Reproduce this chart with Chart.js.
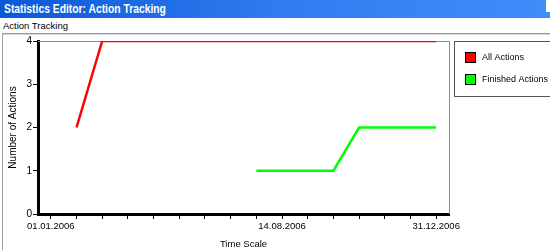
<!DOCTYPE html>
<html>
<head>
<meta charset="utf-8">
<script src="https://cdn.jsdelivr.net/npm/chart.js@4/dist/chart.umd.min.js"></script>
<style>
  body { margin: 0; width: 550px; height: 250px; overflow: hidden; background: #fff; position: relative; font-family: "Liberation Sans", Arial, sans-serif; }
  .titlebar { position: absolute; left: 0; top: 0; width: 550px; height: 18px; background: linear-gradient(to right, #0a58d6, #2f7cf0 50%, #3f8df9); }
  .titlebar span { position: absolute; left: 4px; top: 0; color: #fff; font: bold 12px "Liberation Sans", sans-serif; line-height: 18px; white-space: nowrap; transform: scaleX(0.86); transform-origin: left center; }
  .btn { position: absolute; left: 546px; top: 0; width: 4px; height: 12px; background: #fff; }
  .subtitle { position: absolute; left: 3px; top: 20px; font-size: 9.5px; color: #000; }
  .panel { position: absolute; left: 2px; top: 33px; width: 600px; height: 300px; border-top: 1px solid #8f99a3; border-left: 1px solid #a0a0a0; box-shadow: inset 0 1px #d4d8dc; }
  canvas { position: absolute; left: 0; top: 34px; }
</style>
</head>
<body>
<div class="titlebar"><span>Statistics Editor: Action Tracking</span></div>
<div class="btn"></div>
<div class="subtitle">Action Tracking</div>
<div class="panel"></div>
<canvas id="chart" width="550" height="216"></canvas>
<script>
const tickLabels = ['01.01.2006', '', '', '', '', '', '', '', '', '14.08.2006', '', '', '', '', '', '31.12.2006'];
const allActions = [null, 2, 4, 4, 4, 4, 4, 4, 4, 4, 4, 4, 4, 4, 4, 4];
const finishedActions = [null, null, null, null, null, null, null, null, 1, 1, 1, 1, 2, 2, 2, 2];

// gray frame on top and right of the plot
const plotFrame = {
    id: 'plotFrame',
    beforeDatasetsDraw(chart) {
        const { ctx, chartArea } = chart;
        ctx.save();
        ctx.strokeStyle = '#8a8a8a';
        ctx.lineWidth = 1;
        ctx.beginPath();
        ctx.moveTo(chartArea.left, chartArea.top + 0.5);
        ctx.lineTo(chartArea.right + 0.5, chartArea.top + 0.5);
        ctx.lineTo(chartArea.right + 0.5, chartArea.bottom);
        ctx.stroke();
        ctx.restore();
    }
};

// boxed legend to the right of the plot
const legendBox = {
    id: 'legendBox',
    afterDraw(chart) {
        const ctx = chart.ctx;
        const x = 454, y = 7;
        ctx.save();
        ctx.strokeStyle = '#555';
        ctx.lineWidth = 1;
        ctx.strokeRect(x + 0.5, y + 0.5, 120, 55);
        chart.data.datasets.forEach((ds, i) => {
            const sy = y + 11 + i * 22;
            ctx.fillStyle = ds.borderColor;
            ctx.fillRect(x + 11, sy, 10, 10);
            ctx.strokeStyle = '#000';
            ctx.strokeRect(x + 11.5, sy + 0.5, 10, 10);
            ctx.fillStyle = '#000';
            ctx.font = '9px "Liberation Sans"';
            ctx.textBaseline = 'middle';
            ctx.fillText(ds.label, x + 28, sy + 6);
        });
        ctx.restore();
    }
};

new Chart(document.getElementById('chart'), {
    type: 'line',
    data: {
        labels: tickLabels,
        datasets: [
            { label: 'All Actions', data: allActions, borderColor: '#ff0000', borderWidth: 2.5, pointRadius: 0, tension: 0 },
            { label: 'Finished Actions', data: finishedActions, borderColor: '#00ff00', borderWidth: 2.5, pointRadius: 0, tension: 0 }
        ]
    },
    options: {
        responsive: false,
        animation: false,
        layout: { padding: { left: 0, top: 7, right: 101, bottom: 0 } },
        plugins: { legend: { display: false }, tooltip: { enabled: false } },
        scales: {
            x: {
                offset: true,
                afterFit: (scale) => { scale.height = 36; },
                grid: { drawOnChartArea: false, offset: false, color: '#000', tickLength: 5, lineWidth: 1 },
                border: { color: '#000', width: 3 },
                ticks: { color: '#000', font: { size: 9.5, family: 'Liberation Sans' }, autoSkip: false, maxRotation: 0, minRotation: 0, padding: 2 },
                title: { display: true, text: 'Time Scale', color: '#000', font: { size: 9.5, family: 'Liberation Sans' }, padding: { top: 3, bottom: 0 } }
            },
            y: {
                min: 0,
                max: 4,
                afterFit: (scale) => { scale.width = 38; },
                grid: { drawOnChartArea: false, color: '#000', tickLength: 5, lineWidth: 1 },
                border: { color: '#000', width: 3 },
                ticks: { stepSize: 1, color: '#000', font: { size: 10, family: 'Liberation Sans' }, padding: 1 },
                title: { display: true, text: 'Number of Actions', color: '#000', font: { size: 10, family: 'Liberation Sans' }, padding: { top: 7, bottom: 0 } }
            }
        }
    },
    plugins: [plotFrame, legendBox]
});
</script>
</body>
</html>
